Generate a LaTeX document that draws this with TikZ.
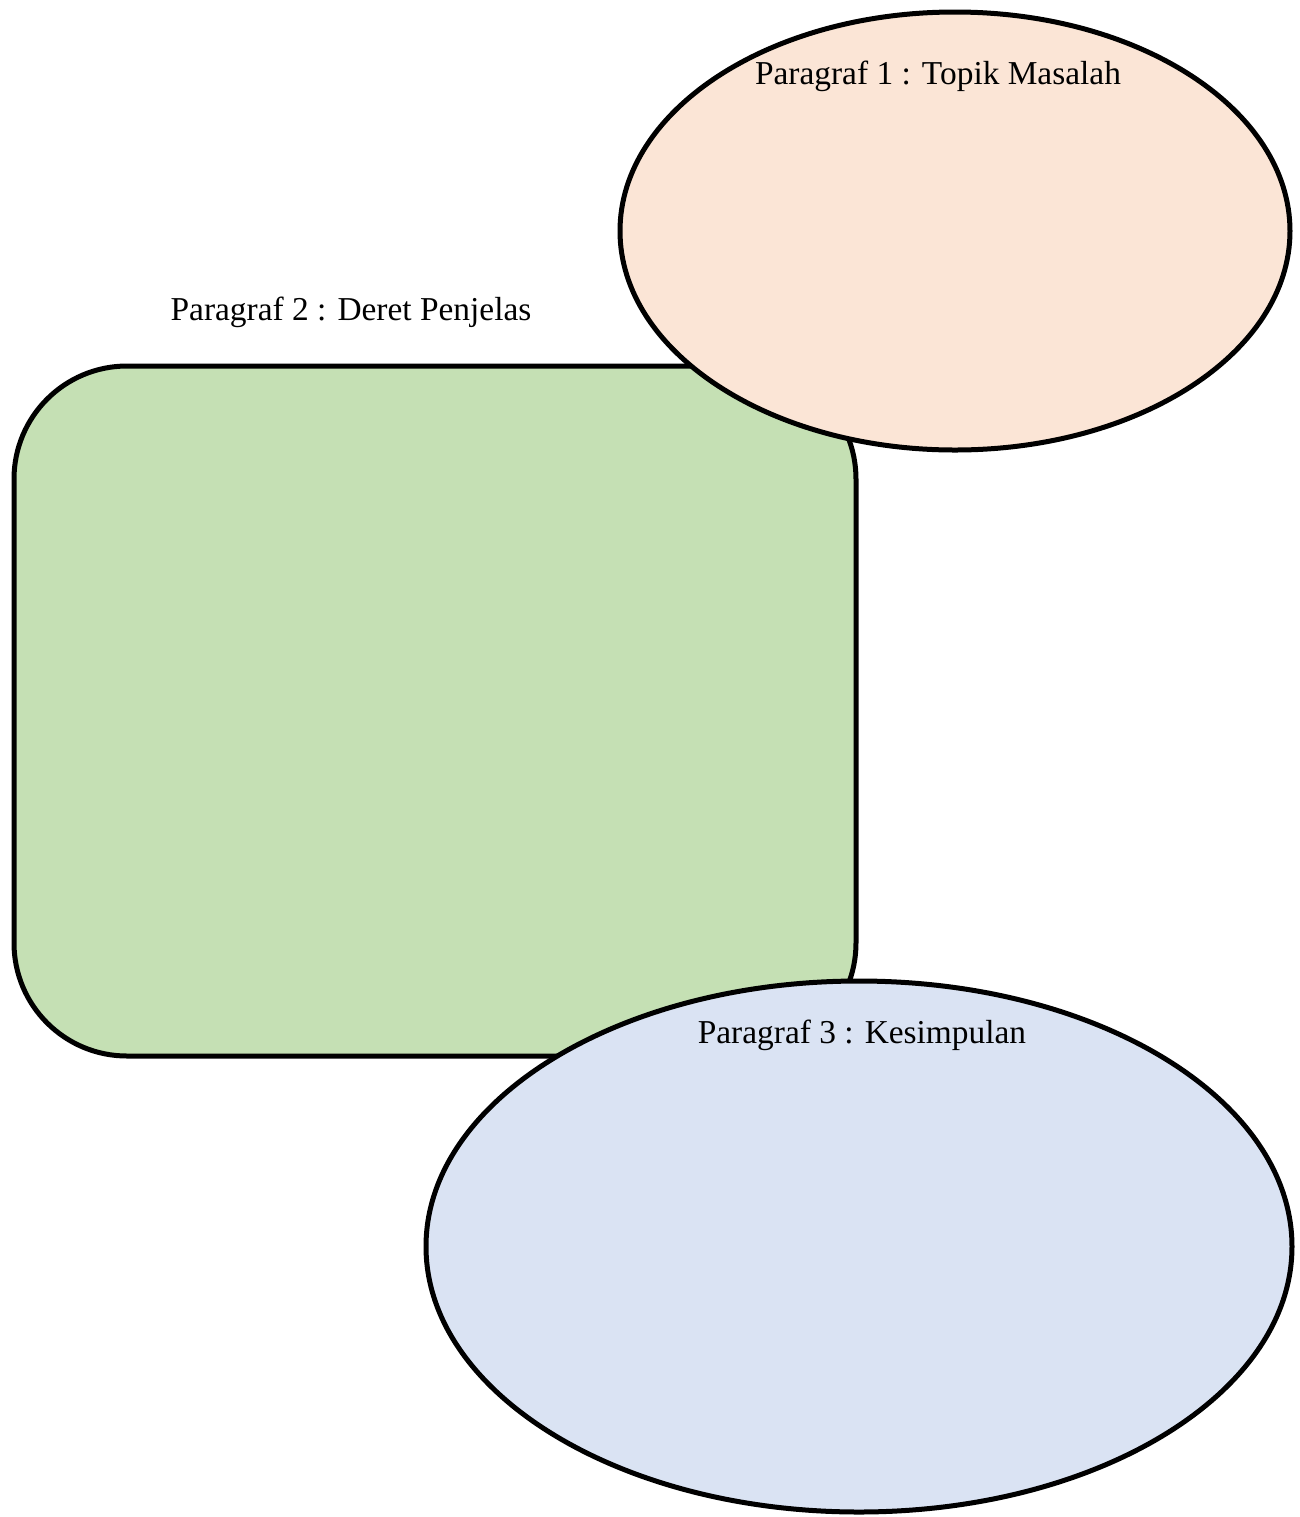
\documentclass[tikz,border=0pt]{standalone}
\usepackage{fontspec}
\setmainfont{Liberation Serif}
\usetikzlibrary{shapes.geometric}
\definecolor{topikfill}{HTML}{FBE5D6}
\definecolor{deretfill}{HTML}{C5E0B4}
\definecolor{simpulfill}{HTML}{DAE3F3}
\tikzset{
  blok/.style={draw=black, line width=2.5pt, inner sep=0pt, outer sep=0pt},
  judul/.style={anchor=base, inner sep=0pt, font=\fontsize{16.7pt}{20pt}\selectfont}
}
\begin{document}
\begin{tikzpicture}[x=0.5pt, y=-0.5pt]
    \useasboundingbox (0,0) rectangle (1300,1517);
    \node[blok, rectangle, rounded corners=56.5pt, fill=deretfill,
      minimum width=421pt, minimum height=345pt] (deret) at (435,711) {};
    \node[blok, ellipse, fill=topikfill,
      minimum width=335pt, minimum height=219pt] (topik) at (955,231) {};
    \node[blok, ellipse, fill=simpulfill,
      minimum width=433pt, minimum height=265.5pt] (simpul) at (859,1246.5) {};
    \node[judul] (judul1) at (938,84) {Paragraf 1 : Topik Masalah};
    \node[judul] (judul2) at (351,320) {Paragraf 2 : Deret Penjelas};
    \node[judul] (judul3) at (862,1043) {Paragraf 3 : Kesimpulan};
  \end{tikzpicture}
\end{document}
